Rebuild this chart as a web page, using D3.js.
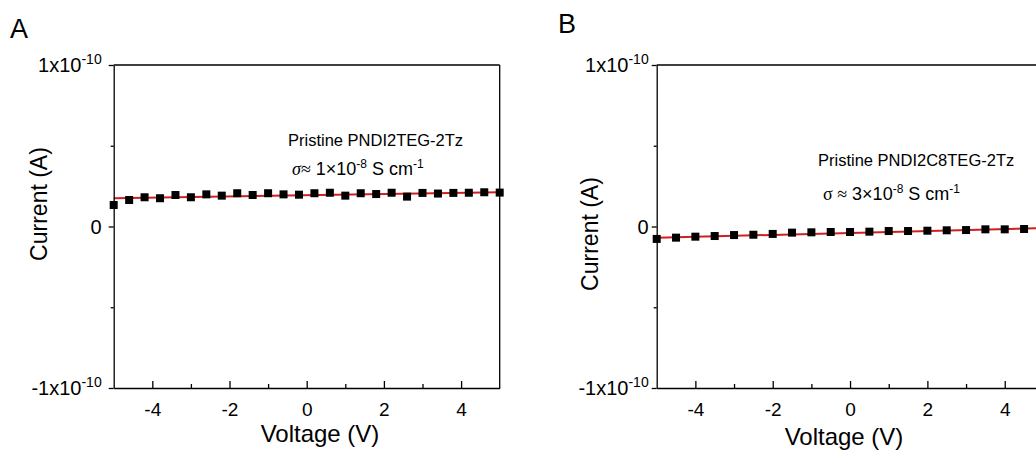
<!DOCTYPE html>
<html>
<head>
<meta charset="utf-8">
<script src="https://cdn.jsdelivr.net/npm/d3@7"></script>
<style>
  html, body { margin: 0; padding: 0; background: #fff; }
  svg { display: block; }
  text { font-family: "Liberation Sans", Arial, sans-serif; fill: #000; }
</style>
</head>
<body>
<svg id="chart" width="1036" height="452"></svg>
<script>
// ---- Data ----
const voltageA = [-5, -4.6, -4.2, -3.8, -3.4, -3.0, -2.6, -2.2, -1.8, -1.4, -1.0, -0.6, -0.2,
                  0.2, 0.6, 1.0, 1.4, 1.8, 2.2, 2.6, 3.0, 3.4, 3.8, 4.2, 4.6, 5.0];
const currentA = [13.3e-12, 16.4e-12, 18.1e-12, 17.5e-12, 19.5e-12, 18.1e-12, 19.9e-12, 19.1e-12, 20.6e-12,
                  19.5e-12, 20.6e-12, 19.9e-12, 19.7e-12, 20.6e-12, 20.9e-12, 19.1e-12, 20.6e-12, 20.1e-12,
                  20.9e-12, 18.5e-12, 20.8e-12, 20.4e-12, 20.8e-12, 20.9e-12, 21.2e-12, 21.0e-12];
const fitVoltageA = [-5, 5];
const fitCurrentA = [17.5e-12, 21.2e-12];

const voltageB = [-5, -4.5, -4, -3.5, -3, -2.5, -2, -1.5, -1, -0.5, 0, 0.5, 1, 1.5, 2, 2.5, 3, 3.5, 4, 4.5, 5];
const currentB = [-7.7e-12, -6.9e-12, -6.3e-12, -5.9e-12, -5.3e-12, -5.1e-12, -4.6e-12, -3.8e-12, -3.6e-12,
                  -3.4e-12, -3.4e-12, -3.2e-12, -2.8e-12, -2.8e-12, -2.6e-12, -2.35e-12, -2.2e-12, -1.75e-12,
                  -1.75e-12, -1.55e-12, -1.3e-12];
const fitVoltageB = [-5, 5];
const fitCurrentB = [-7.0e-12, -1.0e-12];

const xTicks = [-4, -2, 0, 2, 4];
const xMinorTicks = [-3, -1, 1, 3];
const yTicks = [-1e-10, 0, 1e-10];
const yMinorTicks = [-5e-11, 5e-11];
const yTickLabels = { "-1e-10": ["-1x10", "-10"], "0": ["0", ""], "1e-10": ["1x10", "-10"] };

const panels = [
  { letter: "A", letterX: 10, letterY: 38,
    x0: 113.7, x1: 499.7, y0: 388, y1: 65,
    volt: voltageA, cur: currentA, fitV: fitVoltageA, fitC: fitCurrentA,
    labelGap: 12, yTitleX: 39, yTitleY: 204, xTitleX: 320, xTitleY: 442,
    name: "Pristine PNDI2TEG-2Tz", nameX: 288, nameY: 146,
    sigma: "1", sigmaX: 292, sigmaY: 175, sigmaItalic: true },
  { letter: "B", letterX: 558, letterY: 33,
    x0: 656.7, x1: 1043.4, y0: 388, y1: 65,
    volt: voltageB, cur: currentB, fitV: fitVoltageB, fitC: fitCurrentB,
    labelGap: 8, yTitleX: 590, yTitleY: 234, xTitleX: 844, xTitleY: 445,
    name: "Pristine PNDI2C8TEG-2Tz", nameX: 818, nameY: 166,
    sigma: "3", sigmaX: 823, sigmaY: 200, sigmaItalic: false }
];

const svg = d3.select("#chart");

panels.forEach(p => {
  const g = svg.append("g");
  const x = d3.scaleLinear().domain([-5, 5]).range([p.x0, p.x1]);
  const y = d3.scaleLinear().domain([-1e-10, 1e-10]).range([p.y0, p.y1]);

  // panel letter
  g.append("text").attr("x", p.letterX).attr("y", p.letterY)
    .attr("font-size", 27).text(p.letter);

  // fit line
  const line = d3.line().x(d => x(d[0])).y(d => y(d[1]));
  g.append("path")
    .datum(p.fitV.map((v, i) => [v, p.fitC[i]]))
    .attr("d", line).attr("fill", "none")
    .attr("stroke", "#d01f1f").attr("stroke-width", 2);

  // markers
  const s = 8;
  g.selectAll("rect.pt").data(p.volt.map((v, i) => [v, p.cur[i]]))
    .enter().append("rect")
    .attr("x", d => x(d[0]) - s / 2).attr("y", d => y(d[1]) - s / 2)
    .attr("width", s).attr("height", s).attr("fill", "#000");

  // frame: top and right
  g.append("line").attr("x1", x(-5)).attr("x2", x(5)).attr("y1", y(1e-10)).attr("y2", y(1e-10))
    .attr("stroke", "#000").attr("stroke-width", 1.3);
  g.append("line").attr("x1", x(5)).attr("x2", x(5)).attr("y1", y(1e-10)).attr("y2", y(-1e-10))
    .attr("stroke", "#000").attr("stroke-width", 1.3);

  // bottom axis (ticks inward)
  const xAxis = d3.axisBottom(x).tickValues(xTicks).tickSizeInner(-7).tickSizeOuter(0)
    .tickPadding(0).tickFormat(d3.format("d"));
  const gx = g.append("g").attr("transform", `translate(0,${p.y0})`).call(xAxis);
  gx.select(".domain").attr("stroke-width", 1.3);
  gx.selectAll(".tick line").attr("stroke-width", 1.3);
  gx.selectAll(".tick text").attr("font-size", 19).attr("font-family", "Liberation Sans, Arial, sans-serif")
    .attr("y", 0).attr("dy", "1.45em")
    .text(d => d < 0 ? "-" + Math.abs(d) : d);
  const xMinor = d3.axisBottom(x).tickValues(xMinorTicks).tickSizeInner(-4).tickSizeOuter(0).tickFormat("");
  const gxm = g.append("g").attr("transform", `translate(0,${p.y0})`).call(xMinor);
  gxm.select(".domain").remove();
  gxm.selectAll(".tick line").attr("stroke-width", 1.3);

  // left axis (ticks outward)
  const yAxis = d3.axisLeft(y).tickValues(yTicks).tickSizeInner(5).tickSizeOuter(0).tickFormat("");
  const gy = g.append("g").attr("transform", `translate(${p.x0},0)`).call(yAxis);
  gy.select(".domain").attr("stroke-width", 1.3);
  gy.selectAll(".tick line").attr("stroke-width", 1.3);
  const yMinor = d3.axisLeft(y).tickValues(yMinorTicks).tickSizeInner(3).tickSizeOuter(0).tickFormat("");
  const gym = g.append("g").attr("transform", `translate(${p.x0},0)`).call(yMinor);
  gym.select(".domain").remove();
  gym.selectAll(".tick line").attr("stroke-width", 1.3);

  // y tick labels with superscripts
  yTicks.forEach(t => {
    const lab = yTickLabels[String(t)];
    const tx = g.append("text").attr("x", p.x0 - p.labelGap).attr("y", y(t) + 7)
      .attr("text-anchor", "end").attr("font-size", 20);
    tx.append("tspan").text(lab[0]);
    if (lab[1]) tx.append("tspan").attr("font-size", 14).attr("dy", -8).text(lab[1]);
  });

  // axis titles
  g.append("text").attr("x", p.xTitleX).attr("y", p.xTitleY).attr("text-anchor", "middle")
    .attr("font-size", 24).text("Voltage (V)");
  g.append("text").attr("transform", `translate(${p.yTitleX + 8},${p.yTitleY}) rotate(-90)`)
    .attr("text-anchor", "middle").attr("font-size", 23).text("Current (A)");

  // annotations
  g.append("text").attr("x", p.nameX).attr("y", p.nameY).attr("font-size", 16.5).text(p.name);
  const st = g.append("text").attr("x", p.sigmaX).attr("y", p.sigmaY).attr("font-size", 18);
  st.append("tspan").attr("font-family", "Liberation Serif, Times New Roman, serif")
    .attr("font-style", p.sigmaItalic ? "italic" : "normal").text("σ");
  st.append("tspan").attr("font-family", "Liberation Serif, Times New Roman, serif")
    .text(p.sigmaItalic ? "≈" : " ≈");
  st.append("tspan").text(" " + p.sigma + "×10");
  st.append("tspan").attr("font-size", 12).attr("dy", -7).text("-8");
  st.append("tspan").attr("dy", 7).text(" S cm");
  st.append("tspan").attr("font-size", 12).attr("dy", -7).text("-1");
});
</script>
</body>
</html>
